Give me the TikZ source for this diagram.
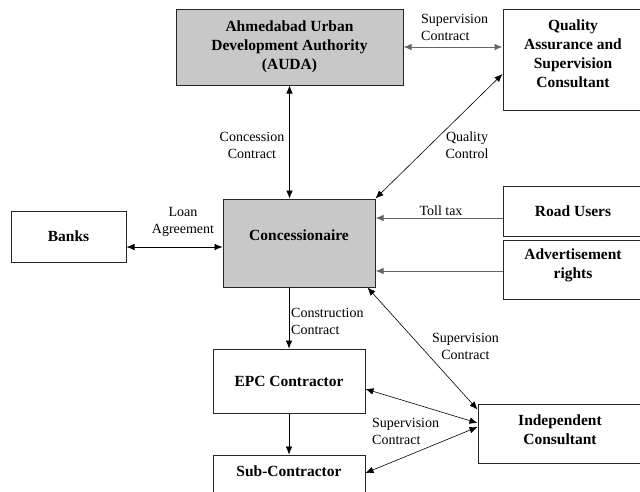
\documentclass[tikz,border=0pt]{standalone}
\usepackage{fontspec}
\setmainfont{Liberation Serif}
\usepackage{tikz}
\usetikzlibrary{arrows.meta}
\definecolor{boxgray}{RGB}{200,200,200}
\definecolor{feedgray}{RGB}{100,100,100}
\tikzset{
	box/.style={draw=black!85,line width=1pt,inner sep=0pt,align=center,font=\fontsize{15.5}{19}\selectfont\bfseries},
	shaded/.style={box,fill=boxgray},
	boxtext/.style={inner sep=0pt,align=center,font=\fontsize{15.5}{19}\selectfont\bfseries},
	lbl/.style={inner sep=0pt,align=center,font=\fontsize{14}{17}\selectfont},
	link/.style={line width=0.6pt},
	feed/.style={line width=1pt,draw=feedgray},
}

\begin{document}
\begin{tikzpicture}[x=1pt,y=-1pt,>={Latex[length=8pt,width=6.5pt]}]

	\clip (0,0) rectangle (640,491);

	% boxes
	\node[shaded,minimum width=227pt,minimum height=76pt] (auda) at (289.5,47) {Ahmedabad Urban\\Development Authority\\(AUDA)};
	\node[box,minimum width=140pt,minimum height=101pt] (qa) at (573,59.5) {};
	\node[boxtext] (qatext) at (573,54) {Quality\\Assurance and\\Supervision\\Consultant};

	\node[shaded,minimum width=152pt,minimum height=88pt] (conc) at (299,243) {};
	\node[boxtext] (conctext) at (299,235) {Concessionaire};
	\node[box,minimum width=115pt,minimum height=51pt] (banks) at (68.5,236.5) {Banks};
	\node[box,minimum width=140pt,minimum height=50pt] (road) at (573,211) {Road Users};
	\node[box,minimum width=140pt,minimum height=59pt] (advert) at (573,269.5) {};
	\node[boxtext] (adverttext) at (573,265) {Advertisement\\rights};

	\node[box,minimum width=152pt,minimum height=64pt] (epc) at (289,381) {EPC Contractor};
	\node[box,minimum width=152pt,minimum height=64pt] (sub) at (289,487) {};
	\node[boxtext] (subtext) at (289,471) {Sub-Contractor};
	\node[box,minimum width=164pt,minimum height=59pt] (ic) at (560,433.5) {};
	\node[boxtext] (ictext) at (560,430) {Independent\\Consultant};

	% connectors
	\draw[feed,<->] (auda.east) -- (auda.east -| qa.west);
	\draw[link,<->] (auda.south) -- (auda.south |- conc.north);
	\draw[link,<->] ([yshift=-14.5pt]qa.west) -- (conc.north east);
	\draw[feed,->] ([yshift=-7pt]road.west) -- ([yshift=-7pt]road.west -| conc.east);
	\draw[feed,->] ([yshift=-1.5pt]advert.west) -- ([yshift=-1.5pt]advert.west -| conc.east);
	\draw[link,<->] ([yshift=-10.5pt]banks.east) -- ([yshift=-10.5pt]banks.east -| conc.west);

	\draw[link,->] (epc.north |- conc.south) -- (epc.north);
	\draw[link,->] (epc.south) -- (sub.north);
	\draw[link,<->] ([xshift=-8pt]conc.south east) -- ([yshift=-6pt]ic.north west);
	\draw[link,<->] ([yshift=-8pt]epc.east) -- ([yshift=10.5pt]ic.west);
	\draw[link,<->] ([yshift=14pt]sub.east) -- ([yshift=6.5pt]ic.west);

	% labels
	\node[lbl,anchor=west,align=left] (supqa) at (421,27.5) {Supervision\\Contract};
	\node[lbl] (concession) at (252,145.5) {Concession\\Contract};
	\node[lbl] (quality) at (467,145.5) {Quality\\Control};
	\node[lbl] (loan) at (183,221.5) {Loan\\Agreement};
	\node[lbl] (toll) at (441,211) {Toll tax};
	\node[lbl,anchor=west,align=left] (construction) at (291,321.5) {Construction\\Contract};
	\node[lbl] (supic) at (465.5,346.5) {Supervision\\Contract};
	\node[lbl,anchor=west,align=left] (supepc) at (372,431.5) {Supervision\\Contract};

\end{tikzpicture}
\end{document}
